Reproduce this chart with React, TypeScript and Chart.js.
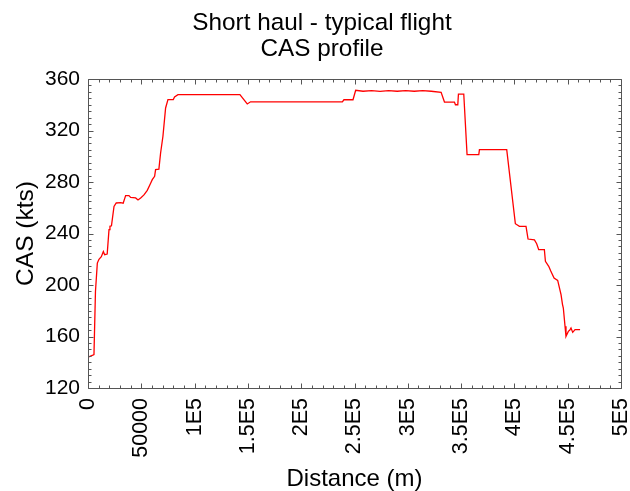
import React, { useEffect, useRef } from 'react';
import { Chart, registerables } from 'chart.js';

Chart.register(...registerables);

const FONT = '"Liberation Sans", Arial, Helvetica, sans-serif';

const titleLines = ['Short haul - typical flight', 'CAS profile'];
const xAxisTitle = 'Distance (m)';
const yAxisTitle = 'CAS (kts)';

const distanceM = [
  0, 4500, 5600, 7000, 8750, 10300, 12500, 14400, 15600, 18000,
  19700, 20600, 22000, 24400, 26500, 30600, 33000, 35300, 38400, 40000,
  44700, 46900, 49400, 52500, 55600, 58750, 60300, 62500, 63400, 66500,
  68100, 70300, 72800, 75000, 80000, 81200, 84400, 142500, 149400, 152500,
  238600, 240100, 248600, 251100, 258000, 266000, 274000, 282000, 290000, 298000,
  306000, 314000, 322000, 331250, 334400, 343750, 344700, 346900, 347500, 352500,
  355600, 366600, 367200, 392800, 400900, 404700, 410900, 412800, 418800, 420900,
  422800, 428100, 429100, 432200, 434000, 437200, 440600, 443750, 445100, 445900,
  447500, 448400, 450600, 452000, 453100, 454700, 456900, 461600,
];

const casKts = [
  144, 145.5, 146, 195, 217, 220, 222, 226, 223.5, 224,
  243, 245.6, 246, 261, 263.7, 264, 263.5, 269.4, 269.4, 268,
  267.6, 266, 267.6, 270, 273.5, 279, 281.8, 284.4, 289.6, 290,
  302.5, 315.5, 337.5, 344, 344, 346, 347.8, 347.8, 340.6, 342.3,
  342.3, 343.9, 343.9, 351.2, 350.5, 351, 350.4, 351, 350.5, 351,
  350.5, 351, 350.5, 349.6, 342.1, 342.1, 340, 340, 348.3, 348.3,
  301.2, 301.2, 305.1, 305.1, 247.6, 245.6, 245.6, 235.7, 235, 232.1,
  227.4, 227.4, 218.4, 214.5, 211, 205.4, 203.6, 192.5, 185, 182.1,
  167.9, 160.1, 164, 165, 166.6, 163.2, 165.3, 165.3,
];

const xTickValues = [0, 50000, 100000, 150000, 200000, 250000, 300000, 350000, 400000, 450000, 500000];
const xTickLabels = ['0', '50000', '1E5', '1.5E5', '2E5', '2.5E5', '3E5', '3.5E5', '4E5', '4.5E5', '5E5'];
const yTickValues = [120, 160, 200, 240, 280, 320, 360];

const X_MIN = 0;
const X_MAX = 500000;
const X_MAJOR = 50000;
const X_MINOR = 10000;
const Y_MIN = 120;
const Y_MAX = 360;
const Y_MAJOR = 40;
const Y_MINOR = 5;

const frameTicks = {
  id: 'frameTicks',
  afterDatasetsDraw(chart: any) {
    const { ctx, chartArea: a, scales } = chart;
    const xs = scales.x;
    const ys = scales.y;
    const L = Math.round(a.left) + 0.5;
    const R = Math.round(a.right) + 0.5;
    const T = Math.round(a.top) + 0.5;
    const B = Math.round(a.bottom) + 0.5;
    ctx.save();
    ctx.strokeStyle = '#555555';
    ctx.lineWidth = 1;
    ctx.beginPath();
    ctx.moveTo(L, T);
    ctx.lineTo(R, T);
    ctx.lineTo(R, B);
    ctx.lineTo(L, B);
    ctx.closePath();
    for (let v = X_MIN; v <= X_MAX; v += X_MINOR) {
      const px = Math.round(xs.getPixelForValue(v)) + 0.5;
      const len = v % X_MAJOR === 0 ? 5 : 3;
      ctx.moveTo(px, B);
      ctx.lineTo(px, B - len);
      ctx.moveTo(px, T);
      ctx.lineTo(px, T + len);
    }
    for (let v = Y_MIN; v <= Y_MAX; v += Y_MINOR) {
      const py = Math.round(ys.getPixelForValue(v)) + 0.5;
      const len = (v - Y_MIN) % Y_MAJOR === 0 ? 5 : 3;
      ctx.moveTo(L, py);
      ctx.lineTo(L + len, py);
      ctx.moveTo(R, py);
      ctx.lineTo(R - len, py);
    }
    ctx.stroke();
    ctx.restore();
  },
};

export default function App() {
  const ref = useRef<HTMLCanvasElement | null>(null);

  useEffect(() => {
    if (!ref.current) return;
    Chart.defaults.color = '#000000';
    const points = distanceM.map((d, i) => ({ x: d, y: casKts[i] }));
    const chart = new Chart(ref.current, {
      type: 'line',
      data: {
        datasets: [
          {
            data: points,
            borderColor: '#ff0000',
            borderWidth: 1.3,
            pointRadius: 0,
            tension: 0,
            fill: false,
          },
        ],
      },
      options: {
        responsive: false,
        animation: false,
        layout: { padding: { left: 14, right: 0, top: 0, bottom: 0 } },
        plugins: {
          legend: { display: false },
          tooltip: { enabled: false },
          title: {
            display: true,
            text: titleLines,
            color: '#000000',
            font: { family: FONT, size: 24.3, weight: 'normal', lineHeight: 1.07 },
            padding: { top: 10.3, bottom: 16.7 },
          },
        },
        scales: {
          x: {
            type: 'linear',
            min: X_MIN,
            max: X_MAX,
            grid: { display: false, drawTicks: false },
            border: { display: false },
            ticks: {
              stepSize: X_MAJOR,
              autoSkip: false,
              maxRotation: 90,
              minRotation: 90,
              padding: 10,
              color: '#000000',
              font: { family: FONT, size: 21.5 },
              callback: (v: any) => {
                const i = xTickValues.indexOf(Number(v));
                return i >= 0 ? xTickLabels[i] : '';
              },
            },
            title: {
              display: true,
              text: xAxisTitle,
              color: '#000000',
              font: { family: FONT, size: 24, lineHeight: 1 },
              padding: 0,
            },
            afterFit: (s: any) => {
              s.height = 103;
              s.paddingLeft = 0;
              s.paddingRight = 9;
            },
          },
          y: {
            type: 'linear',
            min: Y_MIN,
            max: Y_MAX,
            grid: { display: false, drawTicks: false },
            border: { display: false },
            ticks: {
              stepSize: Y_MAJOR,
              padding: 8,
              color: '#000000',
              font: { family: FONT, size: 21 },
              callback: (v: any) => (yTickValues.indexOf(Number(v)) >= 0 ? String(v) : ''),
            },
            title: {
              display: true,
              text: yAxisTitle,
              color: '#000000',
              font: { family: FONT, size: 24.5, lineHeight: 1 },
              padding: { top: 0, bottom: 0 },
            },
            afterFit: (s: any) => {
              s.width = 74;
              s.paddingTop = 0;
              s.paddingBottom = 0;
            },
          },
        },
      } as any,
      plugins: [frameTicks],
    });
    return () => chart.destroy();
  }, []);

  return (
    <div style={{ position: 'absolute', left: 0, top: 0, width: 630, height: 491, background: '#ffffff' }}>
      <canvas ref={ref} width={630} height={491} style={{ display: 'block' }} />
    </div>
  );
}
